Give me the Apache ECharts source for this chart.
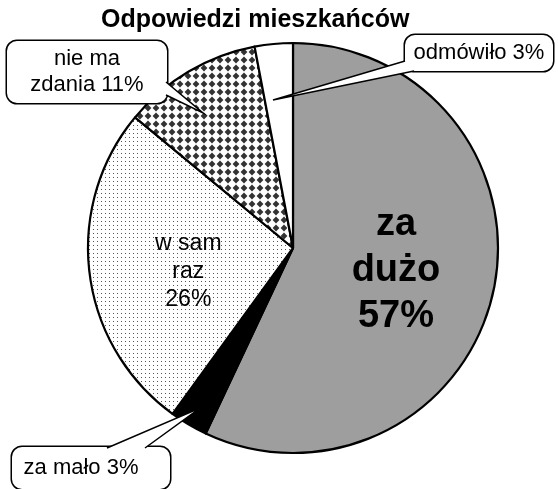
<!DOCTYPE html>
<html>
<head>
<meta charset="utf-8">
<script src="https://cdn.jsdelivr.net/npm/echarts@6/dist/echarts.min.js"></script>
<style>
  html, body { margin: 0; padding: 0; background: #fff; }
  #main { width: 558px; height: 489px; }
</style>
</head>
<body>
<div id="main"></div>
<script>
// chart data
const categories = ['za dużo', 'za mało', 'w sam raz', 'nie ma zdania', 'odmówiło'];
const values = [57, 3, 26, 11, 3];
const labelTexts = ['za\ndużo\n57%', 'za mało 3%', 'w sam\nraz\n26%', 'nie ma\nzdania 11%', 'odmówiło 3%'];

// fill patterns
function dotPattern() {
  const c = document.createElement('canvas');
  c.width = 4; c.height = 4;
  const ctx = c.getContext('2d');
  ctx.fillStyle = '#fff';
  ctx.fillRect(0, 0, 4, 4);
  ctx.fillStyle = '#555';
  ctx.fillRect(1, 1, 1, 1);
  return c;
}
function diamondPattern() {
  const c = document.createElement('canvas');
  c.width = 8; c.height = 8;
  const ctx = c.getContext('2d');
  ctx.fillStyle = '#fff';
  ctx.fillRect(0, 0, 8, 8);
  ctx.fillStyle = '#333';
  ctx.beginPath();
  ctx.moveTo(4, 0.6);
  ctx.lineTo(7.4, 4);
  ctx.lineTo(4, 7.4);
  ctx.lineTo(0.6, 4);
  ctx.closePath();
  ctx.fill();
  return c;
}

const fills = [
  '#9e9e9e',
  '#000',
  { image: dotPattern(), repeat: 'repeat' },
  { image: diamondPattern(), repeat: 'repeat' },
  '#fff'
];

const bubble = {
  position: 'outside',
  color: '#000',
  fontSize: 22,
  lineHeight: 26,
  overflow: 'none',
  backgroundColor: '#fff',
  borderColor: '#000',
  borderWidth: 1.5,
  borderRadius: 10
};
const labelStyles = [
  { position: 'inside', color: '#000', fontSize: 38, fontWeight: 'bold', lineHeight: 46 },
  Object.assign({}, bubble, { width: 118, padding: [9, 30, 7, 10] }),
  { position: 'inside', color: '#000', fontSize: 23, lineHeight: 28 },
  Object.assign({}, bubble, { width: 124, align: 'center', padding: [5, 18, 5, 18] }),
  Object.assign({}, bubble, { width: 136, align: 'center', padding: [5, 6, 5, 6] })
];
// where the callout boxes sit
const boxPos = { 1: [91, 468], 3: [87, 72], 4: [479, 53] };

// speech-bubble tails: [base start, tip, base end]
const tails = [
  [[166, 82], [203, 113], [166, 95]],
  [[405, 61], [273, 100], [414, 71]],
  [[107, 448], [200, 408], [145, 448]]
];
const tailInset = [[-5, 0], [5, -4], [0, 5]];

const tailGraphics = [];
tails.forEach((t, i) => {
  const d = tailInset[i];
  tailGraphics.push({
    type: 'polygon',
    z: 100,
    shape: { points: [[t[0][0] + d[0], t[0][1] + d[1]], t[0], t[1], t[2], [t[2][0] + d[0], t[2][1] + d[1]]] },
    style: { fill: '#fff', stroke: null }
  });
  tailGraphics.push({
    type: 'polyline',
    z: 101,
    shape: { points: t },
    style: { stroke: '#000', lineWidth: 1.5, fill: null }
  });
});

let chartDom = document.getElementById('main');
let myChart = echarts.init(chartDom);

let option = {
  backgroundColor: '#fff',
  textStyle: { fontFamily: 'Liberation Sans, Arial, sans-serif' },
  title: {
    text: 'Odpowiedzi mieszkańców',
    left: 96,
    top: 3,
    textStyle: { fontSize: 25, fontWeight: 'bold', color: '#000', fontFamily: 'Liberation Sans, Arial, sans-serif' }
  },
  graphic: tailGraphics,
  series: [
    {
      type: 'pie',
      center: [293, 248],
      radius: 205,
      startAngle: 90,
      clockwise: true,
      silent: true,
      itemStyle: { borderColor: '#000', borderWidth: 2.2 },
      labelLine: { show: false },
      labelLayout: function (params) {
        if (params.dataIndex === 2) return { dy: 10 };
        const p = boxPos[params.dataIndex];
        if (!p) return {};
        return { x: p[0], y: p[1], align: 'center', verticalAlign: 'middle' };
      },
      data: categories.map((name, i) => ({
        name: name,
        value: values[i],
        itemStyle: { color: fills[i] },
        label: Object.assign({ show: true, formatter: labelTexts[i] }, labelStyles[i])
      }))
    }
  ]
};

myChart.setOption(option);
</script>
</body>
</html>
